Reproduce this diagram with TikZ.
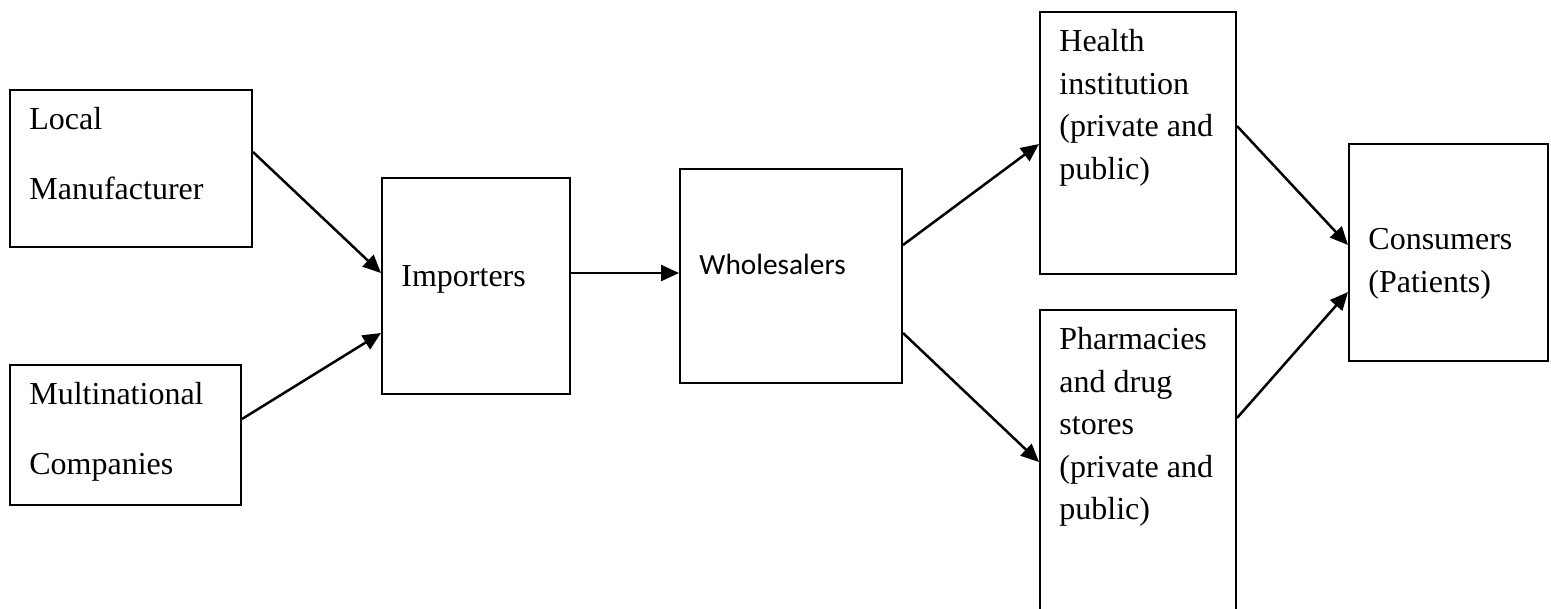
\documentclass[tikz,border=0pt]{standalone}
\usepackage{fontspec}
\setmainfont{Liberation Serif}
\newfontfamily\calibrifont{Carlito}
\usepackage{tikz}
\usetikzlibrary{arrows.meta, positioning}

\begin{document}
\begin{tikzpicture}[x=0.5pt, y=-0.5pt, boxstyle/.style = {rectangle, draw, line width=1pt, anchor=north west}, textstyle/.style = {draw=none, below right, inner xsep=10pt, inner ysep=9pt, align=left, font=\fontsize{16}{21.25}\selectfont}, widetext/.style={font=\fontsize{16}{35}\selectfont}, arrowstyle/.style = {-{Triangle[length=9pt, width=8pt]}, line width=1.25pt}]
  \useasboundingbox (0,0) rectangle (1551,609);

  % Local Manufacturer
  \node[boxstyle, minimum width=121pt, minimum height=78.5pt] (local) at (9,89) {};
  \node[textstyle, widetext] (local_text) at (local.north west) {Local\\Manufacturer};

  % Multinational Companies
  \node[boxstyle, minimum width=115.5pt, minimum height=70pt] (multi) at (9,364) {};
  \node[textstyle, widetext] (multi_text) at (multi.north west) {Multinational\\Companies};

  % Importers
  \node[boxstyle, minimum width=94pt, minimum height=108pt] (importers) at (381,177) {};
  \node[textstyle, inner ysep=44pt] (importers_text) at (importers.north west) {Importers};

  % Wholesalers
  \node[boxstyle, minimum width=111pt, minimum height=107pt] (wholesalers) at (679,168) {};
  \node[textstyle, inner ysep=42.7pt, font=\calibrifont\fontsize{14.67}{18}\selectfont] (wholesalers_text) at (wholesalers.north west) {Wholesalers};

  % Health institution
  \node[boxstyle, minimum width=98pt, minimum height=131pt] (health) at (1039,11) {};
  \node[textstyle] (health_text) at (health.north west) {Health\\institution\\(private and\\public)};

  % Pharmacies and drug stores
  \node[boxstyle, minimum width=98pt, minimum height=155.5pt] (pharmacies) at (1039,309) {};
  \node[textstyle] (pharmacies_text) at (pharmacies.north west) {Pharmacies\\and drug\\stores\\(private and\\public)};

  % Consumers
  \node[boxstyle, minimum width=99.5pt, minimum height=108.5pt] (consumers) at (1348,143) {};
  \node[textstyle, inner ysep=42.7pt] (consumers_text) at (consumers.north west) {Consumers\\(Patients)};

  % arrows
  \draw [arrowstyle] ([yshift=-31.5pt]local.north east) to ([yshift=-48pt]importers.north west);
  \draw [arrowstyle] ([yshift=-27.5pt]multi.north east) to ([yshift=-78pt]importers.north west);
  \draw [arrowstyle] ([yshift=-48pt]importers.north east) to ([yshift=-52.5pt]wholesalers.north west);
  \draw [arrowstyle] ([yshift=-38.5pt]wholesalers.north east) to ([yshift=-66.5pt]health.north west);
  \draw [arrowstyle] ([yshift=-82.5pt]wholesalers.north east) to ([yshift=-76.5pt]pharmacies.north west);
  \draw [arrowstyle] ([yshift=-57.5pt]health.north east) to ([yshift=-51pt]consumers.north west);
  \draw [arrowstyle] ([yshift=-54.5pt]pharmacies.north east) to ([yshift=-74.5pt]consumers.north west);

\end{tikzpicture}
\end{document}
